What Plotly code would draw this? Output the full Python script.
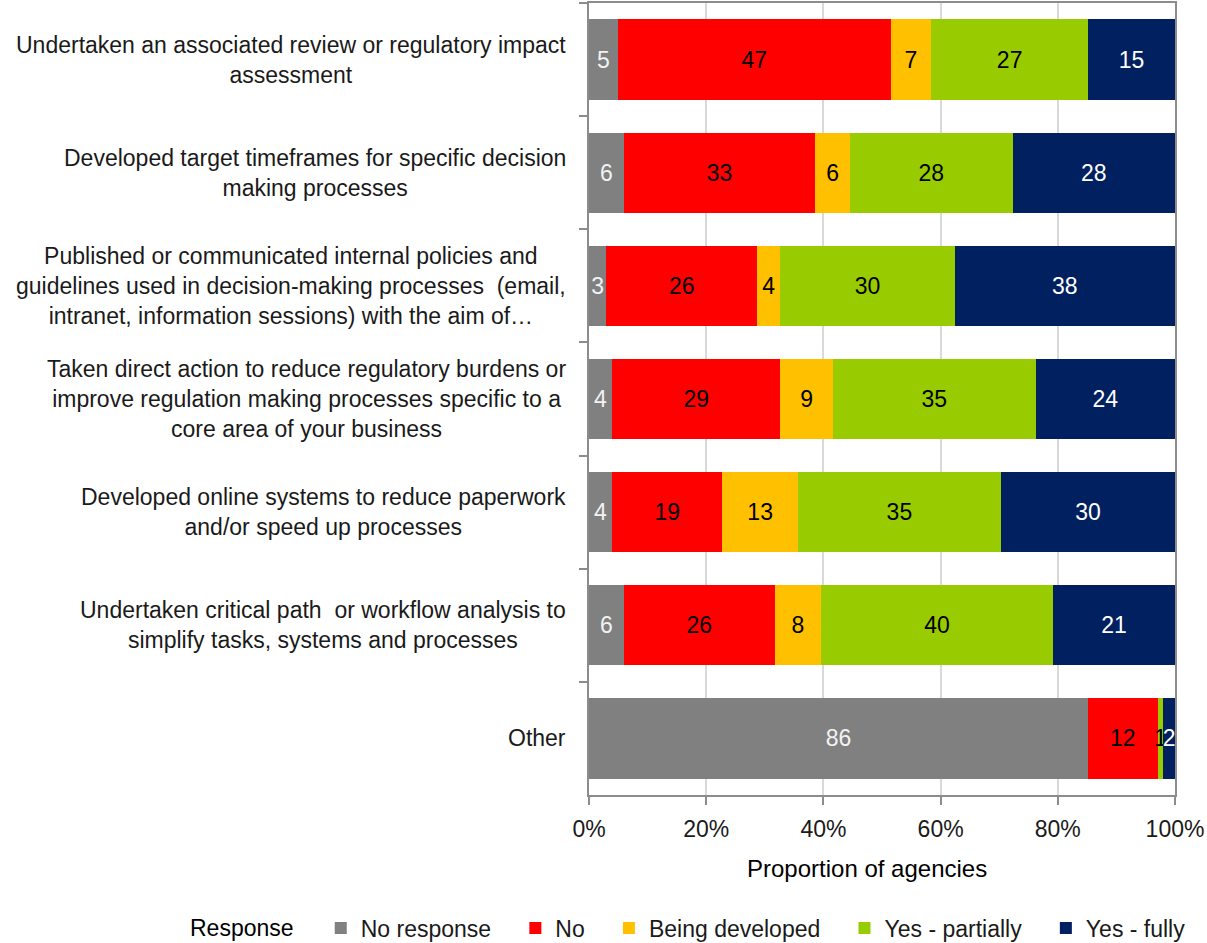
import plotly.graph_objects as go

categories = [
    "Undertaken an associated review or regulatory impact<br>assessment",
    "Developed target timeframes for specific decision<br>making processes",
    "Published or communicated internal policies and<br>guidelines used in decision-making processes  (email,<br>intranet, information sessions) with the aim of…",
    "Taken direct action to reduce regulatory burdens or<br>improve regulation making processes specific to a<br>core area of your business",
    "Developed online systems to reduce paperwork<br>and/or speed up processes",
    "Undertaken critical path  or workflow analysis to<br>simplify tasks, systems and processes",
    "Other",
]
no_response = [5, 6, 3, 4, 4, 6, 86]
no = [47, 33, 26, 29, 19, 26, 12]
being_developed = [7, 6, 4, 9, 13, 8, 0]
yes_partially = [27, 28, 30, 35, 35, 40, 1]
yes_fully = [15, 28, 38, 24, 30, 21, 2]
tick_vals = [0, 20, 40, 60, 80, 100]
tick_text = ["0%", "20%", "40%", "60%", "80%", "100%"]

series = [
    ("No response", no_response, "#808080", "#f2f2f2"),
    ("No", no, "#ff0000", "#000000"),
    ("Being developed", being_developed, "#ffc000", "#000000"),
    ("Yes - partially", yes_partially, "#99cc00", "#000000"),
    ("Yes - fully", yes_fully, "#002060", "#ffffff"),
]

FONT = "Liberation Sans"
FS = 23
GAP = "\u00a0\u00a0\u00a0"
fig = go.Figure()
for i, (name, vals, color, tcolor) in enumerate(series):
    fig.add_trace(go.Bar(
        y=categories, x=vals, name=name + (GAP if i < len(series) - 1 else ""),
        orientation="h",
        marker=dict(color=color, line=dict(width=0)),
        text=[str(v) if v > 0 else "" for v in vals],
        textposition="inside", insidetextanchor="middle",
        constraintext="none", textangle=0,
        textfont=dict(family=FONT, size=FS, color=tcolor),
        hoverinfo="skip",
    ))

L, R, T, B = 589, 32, 3, 148
W, H = 1207, 943
pw = W - L - R
ph = H - T - B

annotations = []
for c in categories:
    annotations.append(dict(
        x=-21 / pw, xref="paper", y=c, yref="y", text=c, showarrow=False,
        xanchor="right", yanchor="middle", align="center",
        font=dict(family=FONT, size=FS, color="#1a1a1a"),
    ))
annotations.append(dict(
    x=(867 - L) / pw, xref="paper", y=-(868 - (H - B)) / ph, yref="paper",
    text="Proportion of agencies", showarrow=False, xanchor="center", yanchor="middle",
    font=dict(family=FONT, size=24, color="#000000"),
))

fig.update_layout(
    barmode="stack", barnorm="percent", bargap=0.29,
    width=W, height=H,
    margin=dict(l=L, r=R, t=T, b=B, pad=0, autoexpand=False),
    paper_bgcolor="white", plot_bgcolor="white",
    font=dict(family=FONT, size=FS, color="#1a1a1a"),
    showlegend=True,
    legend=dict(
        orientation="h", x=(188 - L) / pw, xanchor="left",
        y=-(928 - (H - B)) / ph, yanchor="middle",
        title=dict(text="Response" + GAP, font=dict(family=FONT, size=FS, color="#000000")),
        font=dict(family=FONT, size=FS, color="#1a1a1a"),
        traceorder="normal", itemsizing="constant",
    ),
    annotations=annotations,
)
fig.update_xaxes(
    range=[0, 100], tickvals=tick_vals, ticktext=tick_text,
    showgrid=True, gridcolor="#d9d9d9", gridwidth=1.5,
    showline=True, linecolor="#8c8c8c", linewidth=2, mirror=True,
    ticks="outside", ticklen=8, tickcolor="#8c8c8c", tickwidth=2,
    ticklabelstandoff=4,
    tickfont=dict(family=FONT, size=FS, color="#1a1a1a"),
    zeroline=False, fixedrange=True,
)
fig.update_yaxes(
    categoryorder="array", categoryarray=categories, autorange="reversed",
    showticklabels=False, showgrid=False,
    showline=True, linecolor="#8c8c8c", linewidth=2, mirror=True,
    ticks="outside", tickson="boundaries", ticklen=8, tickcolor="#8c8c8c", tickwidth=2,
    fixedrange=True,
)
fig.write_html("out.html", config={"displayModeBar": False},
               post_script="document.body.style.margin='0';")
